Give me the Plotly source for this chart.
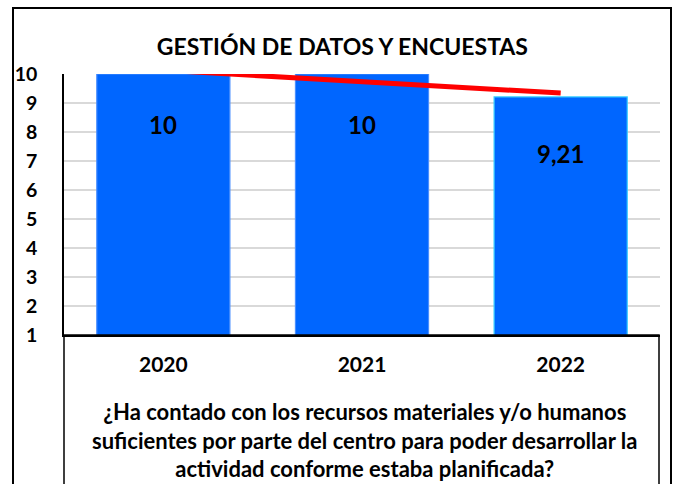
import numpy as np
import plotly.graph_objects as go

# ---- data ----
years = ["2020", "2021", "2022"]
scores = [10, 10, 9.21]
y_ticks = [1, 2, 3, 4, 5, 6, 7, 8, 9, 10]
title_text = "GESTIÓN DE DATOS Y ENCUESTAS"
question_text = ("¿Ha contado con los recursos materiales y/o humanos<br>"
                 "suficientes por parte del centro para poder desarrollar la<br>"
                 "actividad conforme estaba planificada?")

# ---- style ----
FONT = "Lato"
BAR_COLOR = "#0066FF"
BAR_EDGES = ["#4a8fff", "#4a8fff", "#33CCFF"]
LABEL_SHIFT = [50, 50, 57]

W, H = 678, 484
L, R, T, B = 64, 18, 74, 149
pw, ph = W - L - R, H - T - B

def fmt(v):
    return str(int(v)) if float(v).is_integer() else f"{v:.2f}".replace(".", ",")

# linear trend from the data
idx = np.arange(len(scores))
slope, intercept = np.polyfit(idx, scores, 1)
trend = intercept + slope * idx

fig = go.Figure()
fig.add_trace(go.Bar(
    x=years, y=scores, width=0.67,
    marker=dict(color=BAR_COLOR, line=dict(color=BAR_EDGES, width=1.2)),
    showlegend=False, hoverinfo="skip",
))
fig.add_trace(go.Scatter(
    x=years, y=trend, mode="lines",
    line=dict(color="#FF0000", width=5),
    showlegend=False, hoverinfo="skip",
))

for i, (v, s) in enumerate(zip(scores, LABEL_SHIFT)):
    fig.add_annotation(x=i, y=v, text=fmt(v), showarrow=False,
                       yanchor="middle", yshift=-s,
                       font=dict(family=FONT, size=24, color="black", weight="bold"))

# question (axis title) as annotation
fig.add_annotation(xref="paper", yref="paper", x=0.505, y=-(396 - (T + ph)) / ph,
                   yanchor="top", xanchor="center", text=question_text,
                   showarrow=False, align="center",
                   font=dict(family=FONT, size=22, color="black", weight="bold"))

# boxes
fig.add_shape(type="rect", xref="paper", yref="paper",
              x0=0, x1=(659 - L) / pw, y0=-(H + 10 - (T + ph)) / ph, y1=0,
              line=dict(color="black", width=1.5), layer="above")
fig.add_shape(type="rect", xref="paper", yref="paper",
              x0=(13 - L) / pw, x1=(671 - L) / pw,
              y0=-(H + 10 - (T + ph)) / ph, y1=(T + ph - 8) / ph,
              line=dict(color="black", width=2), layer="above")

fig.update_layout(
    width=W, height=H,
    margin=dict(l=L, r=R, t=T, b=B, autoexpand=False),
    paper_bgcolor="white", plot_bgcolor="white",
    title=dict(text=title_text, x=0.505, xanchor="center", y=1 - 47 / H, yanchor="middle",
               font=dict(family=FONT, size=23, color="black", weight="bold")),
    font=dict(family=FONT, color="black"),
)
fig.update_yaxes(range=[1, 10], tickvals=y_ticks, showgrid=True, gridcolor="#d9d9d9",
                 gridwidth=1.5, showline=True, linecolor="black", linewidth=1.5,
                 ticks="", ticklabelstandoff=21, zeroline=False, automargin=False,
                 tickfont=dict(family=FONT, size=19.5, color="black", weight="bold"))
fig.update_xaxes(type="category", range=[-0.5, len(years) - 0.5], showline=True,
                 linecolor="black", linewidth=1.5, ticks="",
                 ticklabelstandoff=10, showgrid=False, automargin=False,
                 tickfont=dict(family=FONT, size=21, color="black", weight="bold"))

fig.write_html("out.html", config={"displayModeBar": False},
               post_script="document.body.style.margin='0px';")
